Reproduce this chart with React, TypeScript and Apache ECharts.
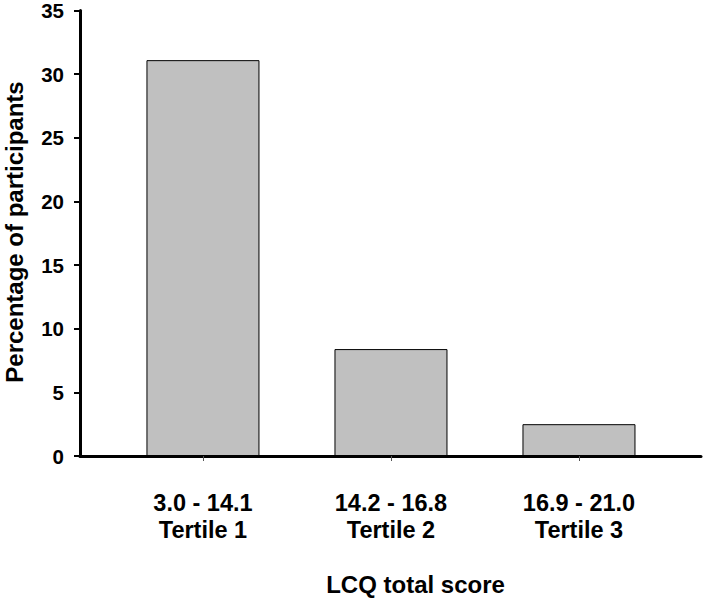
import React, { useEffect, useRef } from "react";
import * as echarts from "echarts";

const categories = ["3.0 - 14.1\nTertile 1", "14.2 - 16.8\nTertile 2", "16.9 - 21.0\nTertile 3"];
const values = [31.1, 8.4, 2.5];
const yTicks = [0, 5, 10, 15, 20, 25, 30, 35];
const xTitle = "LCQ total score";
const yTitle = "Percentage of participants";

const FONT = "'Liberation Sans', Arial, Helvetica, sans-serif";

export default function App() {
  const ref = useRef<HTMLDivElement>(null);
  useEffect(() => {
    document.body.style.margin = "0";
    const chart = echarts.init(ref.current!, null, { renderer: "svg" });
    const positions = categories.map((_, i) => i);
    chart.setOption({
      animation: false,
      backgroundColor: "#ffffff",
      grid: { left: 80, right: 2, top: 10, bottom: 142, containLabel: false },
      xAxis: {
        type: "value",
        min: -0.654,
        max: 2.649,
        axisLine: { show: true, onZero: false, lineStyle: { color: "#000", width: 3 } },
        axisTick: { show: true, customValues: positions, length: 5, lineStyle: { color: "#555", width: 1 } },
        axisLabel: {
          show: true,
          customValues: positions,
          margin: 33,
          formatter: (v: number) => categories[Math.round(v)] ?? "",
          fontFamily: FONT,
          fontWeight: "bold",
          fontSize: 23.5,
          lineHeight: 27,
          color: "#000",
        },
        splitLine: { show: false },
      },
      yAxis: {
        type: "value",
        min: yTicks[0],
        max: yTicks[yTicks.length - 1],
        interval: 5,
        axisLine: { show: true, onZero: false, lineStyle: { color: "#000", width: 3 } },
        axisTick: { show: true, length: 6, lineStyle: { color: "#000", width: 2 } },
        axisLabel: {
          margin: 16,
          fontFamily: FONT,
          fontWeight: "bold",
          fontSize: 20.5,
          color: "#000",
        },
        splitLine: { show: false },
      },
      series: [
        {
          type: "bar",
          data: values.map((v, i) => [i, v]),
          barWidth: 113,
          itemStyle: { color: "#c0c0c0", borderColor: "#000", borderWidth: 1 },
        },
      ],
      graphic: [
        {
          type: "text",
          x: 14,
          y: 232,
          rotation: Math.PI / 2,
          style: {
            text: yTitle,
            fontFamily: FONT,
            fontWeight: "bold",
            fontSize: 24,
            fill: "#000",
            align: "center",
            verticalAlign: "middle",
          },
        },
        {
          type: "text",
          x: 415.5,
          y: 584,
          style: {
            text: xTitle,
            fontFamily: FONT,
            fontWeight: "bold",
            fontSize: 24,
            fill: "#000",
            align: "center",
            verticalAlign: "middle",
          },
        },
      ],
    });
    return () => chart.dispose();
  }, []);
  return <div ref={ref} style={{ width: 703, height: 598 }} />;
}
